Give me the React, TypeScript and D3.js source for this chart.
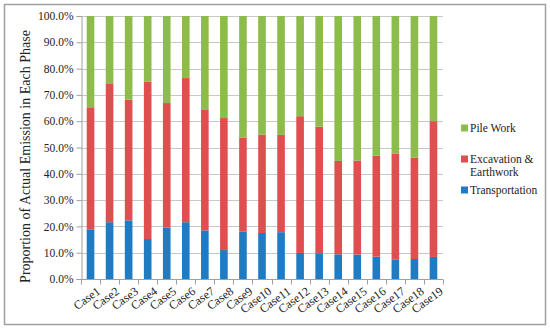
import React, { useRef, useEffect } from 'react';
import * as d3 from 'd3';

const categories = ['Case1', 'Case2', 'Case3', 'Case4', 'Case5', 'Case6', 'Case7', 'Case8', 'Case9', 'Case10',
  'Case11', 'Case12', 'Case13', 'Case14', 'Case15', 'Case16', 'Case17', 'Case18', 'Case19'];
const transportation = [18.9, 21.6, 22.3, 15.2, 19.5, 21.6, 18.5, 11.0, 18.1, 17.5, 17.8, 9.9, 9.8, 9.4, 9.3, 8.5, 7.3, 7.6, 8.4];
const excavation = [46.4, 52.8, 45.9, 59.8, 47.4, 54.8, 46.0, 50.2, 35.6, 37.4, 37.0, 52.0, 48.1, 35.5, 35.7, 38.4, 40.4, 38.5, 51.6];
const pileWork = [34.7, 25.6, 31.8, 25.0, 33.1, 23.6, 35.5, 38.8, 46.3, 45.1, 45.2, 38.1, 42.1, 55.1, 55.0, 53.1, 52.3, 53.9, 40.0];
const yTicks = [0, 10, 20, 30, 40, 50, 60, 70, 80, 90, 100];

const seriesKeys = ['transportation', 'excavation', 'pileWork'];
const colors: Record<string, string> = { transportation: '#1F7BC2', excavation: '#E04F4F', pileWork: '#8DBB4C' };
const legendItems = [
  { key: 'pileWork', lines: ['Pile Work'] },
  { key: 'excavation', lines: ['Excavation &', 'Earthwork'] },
  { key: 'transportation', lines: ['Transportation'] },
];

const font = 'Liberation Serif';

const App = () => {
  const ref = useRef<SVGSVGElement>(null);

  useEffect(() => {
    const width = 550;
    const height = 330;
    const margin = { top: 16, right: 107, bottom: 51, left: 81 };

    const svg = d3.select(ref.current);
    svg.selectAll('*').remove();
    svg.attr('width', width).attr('height', height)
      .attr('font-family', font);

    //outer frame
    svg.append('rect')
      .attr('x', 4.5).attr('y', 4.5)
      .attr('width', 541).attr('height', 320)
      .attr('fill', '#fff')
      .attr('stroke', '#a0a0a0')
      .attr('stroke-width', 1.5);

    const table = categories.map((c, i) => ({
      cat: c,
      transportation: transportation[i],
      excavation: excavation[i],
      pileWork: pileWork[i],
    }));

    const x = d3.scaleBand()
      .domain(categories)
      .range([margin.left, width - margin.right])
      .paddingInner(0.6)
      .paddingOuter(0.3);

    const y = d3.scaleLinear()
      .domain([0, 100])
      .range([height - margin.bottom, margin.top]);

    //gridlines
    svg.append('g')
      .selectAll('line')
      .data(yTicks.filter(t => t > 0))
      .join('line')
      .attr('x1', margin.left)
      .attr('x2', width - margin.right)
      .attr('y1', d => Math.round(y(d)) + 0.5)
      .attr('y2', d => Math.round(y(d)) + 0.5)
      .attr('stroke', '#c8c8c8')
      .attr('stroke-width', 1);

    const stacked = d3.stack<any>().keys(seriesKeys)(table);

    svg.append('g')
      .selectAll('g')
      .data(stacked)
      .join('g')
      .attr('fill', d => colors[d.key])
      .selectAll('rect')
      .data(d => d)
      .join('rect')
      .attr('x', d => x(d.data.cat)!)
      .attr('y', d => y(d[1]))
      .attr('width', x.bandwidth())
      .attr('height', d => y(d[0]) - y(d[1]));

    //y axis
    const yAxis = svg.append('g')
      .attr('transform', `translate(${margin.left + 0.5},0)`)
      .call(d3.axisLeft(y).tickValues(yTicks).tickSize(5).tickFormat(d => `${(+d).toFixed(1)}%`));
    yAxis.attr('font-family', font);
    yAxis.select('.domain').attr('stroke', '#a0a0a0');
    yAxis.selectAll('.tick line').attr('stroke', '#a0a0a0');
    yAxis.selectAll('.tick text')
      .attr('x', -8)
      .attr('font-size', 11.5)
      .attr('fill', '#222');

    //x axis with ticks at category boundaries
    const xAxis = svg.append('g')
      .attr('transform', `translate(0,${height - margin.bottom + 0.5})`);
    xAxis.append('line')
      .attr('x1', margin.left).attr('x2', width - margin.right)
      .attr('stroke', '#a0a0a0');
    const bounds = d3.range(categories.length + 1).map(i => margin.left + i * (width - margin.left - margin.right) / categories.length);
    xAxis.selectAll('line.tk')
      .data(bounds)
      .join('line')
      .attr('class', 'tk')
      .attr('x1', d => Math.round(d) + 0.5)
      .attr('x2', d => Math.round(d) + 0.5)
      .attr('y1', 0).attr('y2', 5)
      .attr('stroke', '#a0a0a0');
    xAxis.selectAll('text')
      .data(categories)
      .join('text')
      .attr('transform', d => `translate(${x(d)! + x.bandwidth() / 2 + 8},${10}) rotate(-36)`)
      .attr('text-anchor', 'end')
      .attr('dy', '0.35em')
      .attr('font-size', 12)
      .attr('fill', '#222')
      .text(d => d);

    //y title
    svg.append('text')
      .attr('transform', `translate(30,${(margin.top + height - margin.bottom) / 2 + 9}) rotate(-90)`)
      .attr('text-anchor', 'middle')
      .attr('font-size', 14)
      .attr('fill', '#222')
      .text('Proportion of  Actual Emission in Each Phase');

    //legend
    const legendTop = [128, 159, 190];
    const lg = svg.append('g');
    legendItems.forEach((item, i) => {
      const cy = legendTop[i];
      lg.append('rect')
        .attr('x', 461).attr('y', cy - 3.5)
        .attr('width', 7).attr('height', 7)
        .attr('fill', colors[item.key]);
      item.lines.forEach((line, j) => {
        lg.append('text')
          .attr('x', 470)
          .attr('y', cy + j * 13)
          .attr('dy', '0.35em')
          .attr('font-size', 11.5)
          .attr('fill', '#222')
          .text(line);
      });
    });
  }, []);

  return <svg ref={ref} style={{ position: 'absolute', left: 0, top: 0 }}></svg>;
};

export default App;
